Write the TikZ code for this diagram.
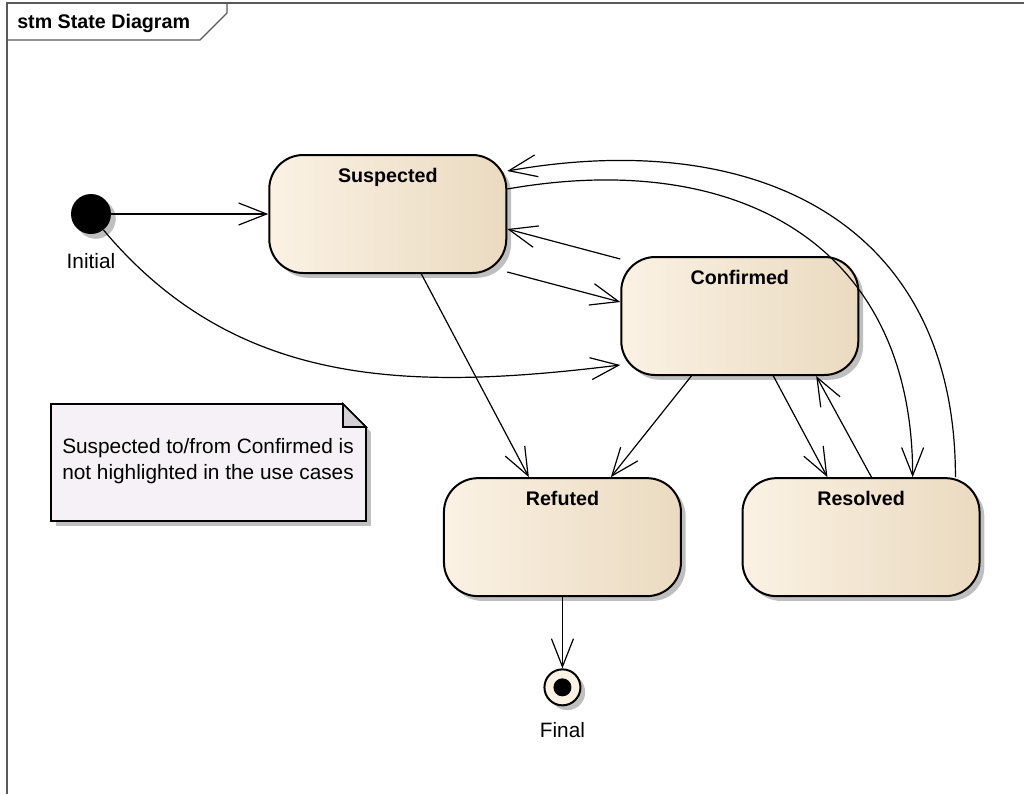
\documentclass[tikz,border=0pt]{standalone}
\usepackage{fontspec}
\setmainfont{Liberation Sans}
\usetikzlibrary{positioning, arrows.meta, shadows}

\definecolor{state_light}{RGB}{251,242,228}
\definecolor{state_mid}{RGB}{248,236,218}
\definecolor{state_dark}{RGB}{234,218,192}
\definecolor{note_fill}{RGB}{246,241,246}
\definecolor{fold_fill}{RGB}{212,208,214}

\begin{document}
\begin{tikzpicture}[
        box_shadow/.style={drop shadow={shadow xshift=1.2mm, shadow yshift=-1.2mm, fill=black!25, opacity=1}},
        state_node/.style={rectangle, rounded corners=8.5mm, draw=black, line width=0.5mm, left color=state_light, middle color=state_mid, right color=state_dark, minimum width=59.25mm, inner sep=0pt, text height=6.9mm, text depth=22.6mm, font=\fontsize{14pt}{17pt}\selectfont\bfseries, box_shadow},
        initial_node/.style={circle, fill=black, minimum size=10mm, inner sep=0pt, box_shadow},
        final_node/.style={circle, draw=black, line width=0.5mm, fill=state_light, minimum size=9mm, inner sep=0pt, box_shadow},
        final_dot/.style={circle, fill=black, minimum size=4.5mm, inner sep=0pt},
        caption/.style={font=\fontsize{14.8pt}{18.5pt}\selectfont, inner sep=0pt},
        frame_line/.style={draw=black!65, line width=0.3mm},
        trans/.style={line width=0.3mm, -{Straight Barb[length=7mm, width=5.5mm]}}
        ]
            \useasboundingbox (0,0) rectangle (256mm,-198.5mm);

            % frame
            \draw[frame_line] (1.75mm,-198.5mm) |- (256mm,-0.75mm);
            \draw[frame_line] (1.75mm,-10mm) -- (50mm,-10mm) -- (56.75mm,-3.25mm) -- (56.75mm,-0.75mm);
            \node[caption, font=\fontsize{14pt}{17pt}\selectfont\bfseries, anchor=base west] (frame_title) at (4.25mm,-7mm) {stm State Diagram};

            % note
            \filldraw[draw=black, line width=0.4mm, fill=note_fill, box_shadow] (12.75mm,-101mm) -- (85.75mm,-101mm) -- (91.5mm,-106.75mm) -- (91.5mm,-130.25mm) -- (12.75mm,-130.25mm) -- cycle;
            \filldraw[draw=black, line width=0.4mm, fill=fold_fill] (85.75mm,-101mm) -- (85.75mm,-106.75mm) -- (91.5mm,-106.75mm) -- cycle;
            \node[caption, anchor=north west, align=left] (note_text) at (15.5mm,-109.6mm) {Suspected to/from Confirmed is\\not highlighted in the use cases};

            % states
            \node[initial_node] (initial)     at (22.75mm,-53.5mm)                          {};
            \node[caption]      (initial_lbl) [below = 4.8mm of initial]                    {Initial};
            \node[state_node]   (suspected)   [right = 39.25mm of initial]                  {Suspected};
            \node[state_node]   (confirmed)   [below right = -4.5mm and 28.25mm of suspected] {Confirmed};
            \node[state_node]   (refuted)     [below right = 62.2mm and 84.4mm of initial]  {Refuted};
            \node[state_node]   (resolved)    [right = 14.9mm of refuted]                   {Resolved};
            \node[final_node]   (final)       [below = 17.8mm of refuted]                   {};
            \node[final_dot]    (final_core)  at (final)                                    {};
            \node[caption]      (final_lbl)   [below = 4mm of final]                        {Final};

            % transitions
            \draw[trans] (initial) -- (suspected);
            \draw[trans] (initial.-52) to[out=-50, in=187] ([yshift=2.75mm]confirmed.south west);
            \draw[trans] ([xshift=8.4mm]suspected.south) -- ([xshift=-8.4mm]refuted.north);
            \draw[trans] ([xshift=-12.1mm]confirmed.south) -- ([xshift=12.1mm]refuted.north);
            \draw[trans] ([yshift=0.5mm]suspected.south east) -- ([yshift=3.5mm]confirmed.west);
            \draw[trans] ([yshift=-0.75mm]confirmed.north west) -- ([yshift=-3.75mm]suspected.east);
            \draw[trans] ([xshift=8.4mm]confirmed.south) -- ([xshift=-8.4mm]resolved.north);
            \draw[trans] ([xshift=2.6mm]resolved.north) -- ([xshift=19.1mm]confirmed.south);
            \draw[trans] ([yshift=6.25mm]suspected.east) to[out=10, in=90, looseness=1.2] ([xshift=12.9mm]resolved.north);
            \draw[trans] ([xshift=23.6mm]resolved.north) to[out=90, in=10, looseness=1.2] ([yshift=10.75mm]suspected.east);
            \draw[trans] (refuted) -- (final);
        \end{tikzpicture}
\end{document}
